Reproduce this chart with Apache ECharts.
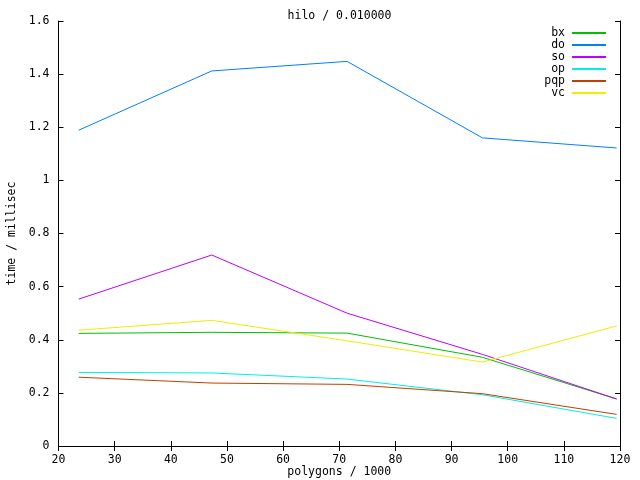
<!DOCTYPE html>
<html>
<head>
<meta charset="utf-8">
<script src="https://cdn.jsdelivr.net/npm/echarts@6/dist/echarts.min.js"></script>
<style>html,body{margin:0;padding:0;background:#fff}#c{width:640px;height:480px}</style>
</head>
<body>
<div id="c"></div>
<script>
const xValues = [23.6, 47.3, 71.4, 95.5, 119.4];
const seriesNames = ['bx', 'do', 'so', 'op', 'pqp', 'vc'];
const bx  = [0.424, 0.428, 0.425, 0.334, 0.177];
const dO  = [1.189, 1.412, 1.448, 1.160, 1.122];
const so  = [0.553, 0.719, 0.500, 0.345, 0.177];
const op  = [0.277, 0.275, 0.252, 0.193, 0.104];
const pqp = [0.259, 0.237, 0.232, 0.197, 0.119];
const vc  = [0.436, 0.473, 0.396, 0.316, 0.452];
const colors = ['#00c000', '#0080ff', '#c000ff', '#00eeee', '#c04000', '#eeee00'];
const allValues = [bx, dO, so, op, pqp, vc];

const FONT = 'DejaVu Sans Mono';
const FS = 11.5;

const chart = echarts.init(document.getElementById('c'), null, {renderer: 'canvas'});
const axisCommon = {
  axisLine: {show: true, lineStyle: {color: '#000', width: 1}},
  axisTick: {show: true, inside: true, length: 5, lineStyle: {color: '#000'}},
  splitLine: {show: false}
};
chart.setOption({
  animation: false,
  backgroundColor: '#fff',
  title: {
    text: 'hilo / 0.010000',
    left: 339.5, textAlign: 'center', top: 10, padding: 0,
    textStyle: {fontFamily: FONT, fontSize: FS, fontWeight: 'normal', color: '#000'}
  },
  legend: {
    orient: 'vertical', align: 'right', right: 33, top: 27, padding: 0,
    itemWidth: 34, itemHeight: 12, itemGap: 0,
    data: seriesNames,
    itemStyle: {opacity: 0},
    textStyle: {fontFamily: FONT, fontSize: FS, color: '#000', padding: [0, 2, 0, 0]}
  },
  grid: {left: 58.5, right: 20, top: 21, bottom: 34, containLabel: false, outerBoundsMode: 'none'},
  xAxis: [
    Object.assign({
      type: 'value', min: 20, max: 120, interval: 10,
      name: 'polygons / 1000', nameLocation: 'middle', nameGap: 20, nameMoveOverlap: false,
      nameTextStyle: {fontFamily: FONT, fontSize: FS, color: '#000'},
      axisLabel: {fontFamily: FONT, fontSize: FS, color: '#000', margin: 8}
    }, axisCommon),
    Object.assign({
      type: 'value', min: 20, max: 120, interval: 10, position: 'top',
      axisLabel: {show: false}
    }, axisCommon)
  ],
  yAxis: [
    Object.assign({
      type: 'value', min: 0, max: 1.6, interval: 0.2,
      name: 'time / millisec', nameLocation: 'middle', nameGap: 40, nameRotate: 90, nameMoveOverlap: false,
      nameTextStyle: {fontFamily: FONT, fontSize: FS, color: '#000'},
      axisLabel: {fontFamily: FONT, fontSize: FS, color: '#000', margin: 9}
    }, axisCommon),
    Object.assign({
      type: 'value', min: 0, max: 1.6, interval: 0.2, position: 'right',
      axisLabel: {show: false}
    }, axisCommon)
  ],
  series: seriesNames.map((n, i) => ({
    name: n, type: 'line', symbol: 'none',
    xAxisIndex: 0, yAxisIndex: 0,
    color: colors[i],
    lineStyle: {width: 1, color: colors[i]},
    data: xValues.map((x, j) => [x, allValues[i][j]])
  }))
});
</script>
</body>
</html>
